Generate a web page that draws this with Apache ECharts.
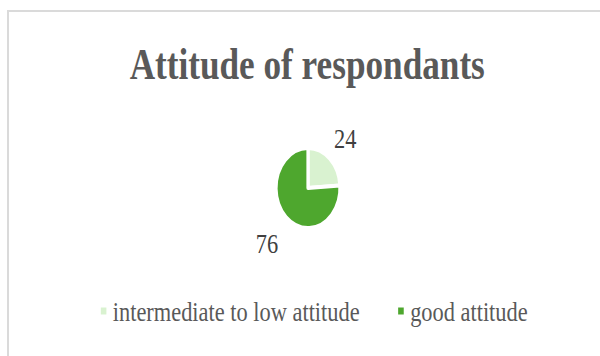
<!DOCTYPE html>
<html>
<head>
<meta charset="utf-8">
<script src="https://cdn.jsdelivr.net/npm/echarts@6/dist/echarts.min.js"></script>
<style>
  html, body { margin: 0; padding: 0; background: #ffffff; width: 600px; height: 356px; overflow: hidden; }
  #wrap { position: relative; width: 600px; height: 356px; overflow: hidden; }
  /* chart is laid out wide and narrowed horizontally, giving the condensed look */
  #chart { position: absolute; left: 0; top: 0; width: 750px; height: 356px; transform: scaleX(0.8); transform-origin: 0 0; }
  #frame { position: absolute; left: 7px; top: 10px; width: 640px; height: 400px; border: 2.5px solid #dadada; box-sizing: border-box; pointer-events: none; }
</style>
</head>
<body>
<div id="wrap">
  <div id="chart"></div>
  <div id="frame"></div>
</div>
<script>
// Survey result: attitude of respondents
const titleText = 'Attitude of respondants';
const categories = ['intermediate to low attitude', 'good attitude'];
const values = [24, 76];
const sliceColors = ['#d9f2d0', '#4ea72e'];
const labelReach = [28, 35];

const chart = echarts.init(document.getElementById('chart'), null, { renderer: 'svg' });

const pieData = categories.map((name, i) => ({
  name: name,
  value: values[i],
  itemStyle: { color: sliceColors[i] },
  labelLine: { show: false, length: labelReach[i], length2: 0 }
}));

chart.setOption({
  animation: false,
  backgroundColor: 'transparent',
  title: {
    text: titleText,
    left: 384,
    textAlign: 'center',
    top: 42,
    padding: 0,
    textStyle: {
      fontFamily: 'Liberation Serif',
      fontWeight: 'bold',
      fontSize: 44,
      color: '#595959'
    }
  },
  legend: {
    data: categories,
    left: 119,
    top: 292,
    itemWidth: 9,
    itemHeight: 9,
    itemGap: 46,
    icon: 'rect',
    selectedMode: false,
    textStyle: {
      fontFamily: 'Liberation Serif',
      fontSize: 28,
      color: '#595959',
      padding: [0, 0, 0, 2]
    }
  },
  series: [{
    type: 'pie',
    center: [385, 188],
    radius: [0, 40],
    startAngle: 90,
    clockwise: true,
    avoidLabelOverlap: false,
    itemStyle: { borderColor: '#ffffff', borderWidth: 4 },
    label: {
      show: true,
      position: 'outside',
      formatter: '{c}',
      distanceToLabelLine: 0,
      fontFamily: 'Liberation Serif',
      fontSize: 28,
      color: '#404040'
    },
    labelLine: { show: false },
    labelLayout: { align: 'center', verticalAlign: 'middle' },
    emphasis: { disabled: true },
    data: pieData
  }]
});
</script>
</body>
</html>
